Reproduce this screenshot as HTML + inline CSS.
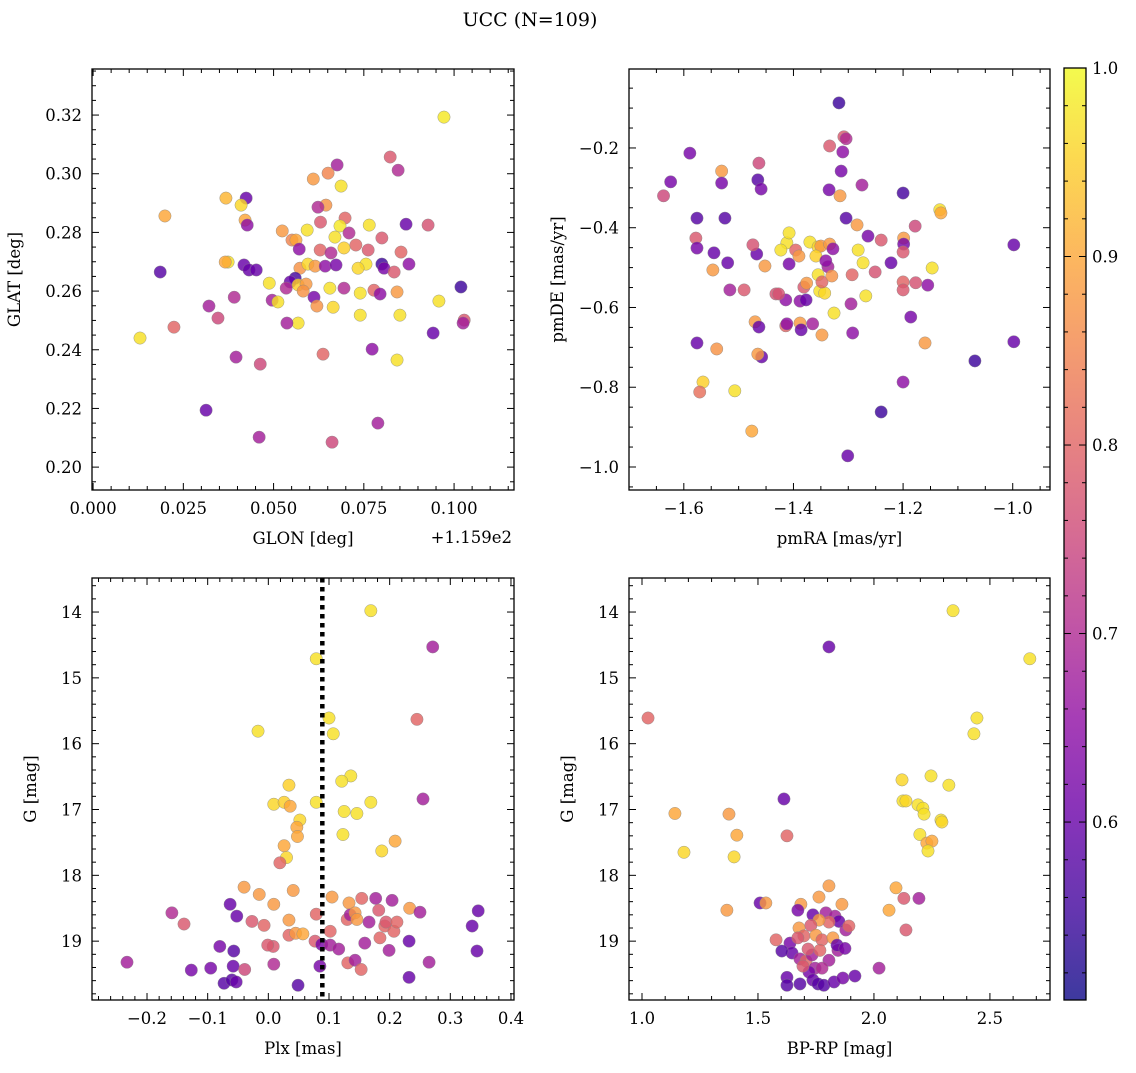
<!DOCTYPE html>
<html><head><meta charset="utf-8"><style>
body{margin:0;background:#fff;}
svg text{font-family:"DejaVu Serif","Liberation Serif",serif;fill:#000;}
</style></head><body>
<svg id="fig" width="1136" height="1068" viewBox="0 0 1136 1068" xmlns="http://www.w3.org/2000/svg">
<defs><linearGradient id="plasma" x1="0" y1="1" x2="0" y2="0">
<stop offset="0" stop-color="#0d0887"/><stop offset="0.1" stop-color="#41049d"/><stop offset="0.2" stop-color="#6a00a8"/><stop offset="0.3" stop-color="#8f0da4"/><stop offset="0.4" stop-color="#b12a90"/><stop offset="0.5" stop-color="#cc4778"/><stop offset="0.6" stop-color="#e16462"/><stop offset="0.7" stop-color="#f2844b"/><stop offset="0.8" stop-color="#fca636"/><stop offset="0.9" stop-color="#fcce25"/><stop offset="1" stop-color="#f0f921"/>
</linearGradient></defs>
<text x="530" y="26" font-size="19" text-anchor="middle">UCC (N=109)</text>
</svg>
<script>
// Panel 1: GLON offset (deg, +115.9), GLAT, probability
const glon=[0.0972,0.0823,0.0676,0.0845,0.0651,0.061,0.0687,0.0199,0.0368,0.0424,0.041,0.0421,0.0427,0.0645,0.0623,0.0698,0.063,0.0684,0.0765,0.0867,0.0928,0.0524,0.0593,0.0709,0.0551,0.0562,0.067,0.08,0.0728,0.0695,0.0571,0.0629,0.0659,0.0762,0.0853,0.08,0.0806,0.0875,0.0834,0.0756,0.0734,0.0573,0.0595,0.0615,0.0643,0.0673,0.0374,0.0366,0.0418,0.0432,0.0488,0.0186,0.056,0.0546,0.0568,0.0535,0.059,0.0582,0.0612,0.0496,0.0656,0.0695,0.074,0.0778,0.0795,0.0842,0.1019,0.0391,0.0321,0.0346,0.0512,0.0568,0.0537,0.062,0.0665,0.074,0.085,0.0958,0.1028,0.1025,0.0942,0.013,0.0224,0.0637,0.0773,0.0842,0.0396,0.0463,0.0313,0.0789,0.046,0.0662,0.0452];
const glat=[0.3193,0.3057,0.303,0.3012,0.3002,0.2982,0.2958,0.2856,0.2917,0.2917,0.2893,0.2842,0.2825,0.2893,0.2886,0.2849,0.2835,0.2822,0.2825,0.2828,0.2825,0.2805,0.2808,0.2798,0.2774,0.2774,0.2784,0.2781,0.2757,0.2747,0.2743,0.274,0.273,0.274,0.2733,0.2692,0.2678,0.2692,0.2665,0.2692,0.2678,0.2678,0.2692,0.2685,0.2685,0.2689,0.2699,0.2699,0.2689,0.2672,0.2627,0.2665,0.2644,0.2631,0.2621,0.261,0.2624,0.26,0.2579,0.2569,0.261,0.261,0.2593,0.2603,0.259,0.2597,0.2614,0.2579,0.2549,0.2508,0.2563,0.2491,0.2491,0.2549,0.2545,0.2518,0.2518,0.2566,0.2501,0.2491,0.2457,0.244,0.2477,0.2385,0.2402,0.2365,0.2375,0.2351,0.2194,0.215,0.2102,0.2085,0.2672];
const prob1=[.98,.78,.68,.7,.85,.88,.97,.9,.92,.6,.96,.9,.65,.87,.7,.8,.78,.98,.97,.6,.77,.88,.97,.7,.85,.9,.97,.78,.8,.95,.65,.8,.7,.78,.8,.55,.62,.65,.78,.97,.96,.87,.96,.88,.65,.62,.97,.9,.6,.6,.97,.58,.56,.6,.95,.7,.88,.87,.62,.68,.97,.7,.97,.8,.65,.88,.55,.7,.68,.75,.97,.97,.68,.87,.96,.97,.97,.97,.78,.68,.6,.97,.8,.8,.65,.97,.68,.75,.6,.68,.68,.75,.6];
// Panel 2: proper motions
const pmra=[-1.317,-1.589,-1.637,-1.624,-1.531,-1.531,-1.463,-1.465,-1.459,-1.576,-1.525,-1.578,-1.576,-1.545,-1.52,-1.547,-1.467,-1.452,-1.474,-1.49,-1.516,-1.432,-1.576,-1.54,-1.565,-1.571,-1.507,-1.47,-1.463,-1.458,-1.465,-1.476,-1.412,-1.408,-1.414,-1.388,-1.388,-1.414,-1.427,-1.412,-1.408,-1.423,-1.396,-1.39,-1.381,-1.376,-1.386,-1.365,-1.377,-1.37,-1.355,-1.35,-1.359,-1.355,-1.352,-1.343,-1.337,-1.348,-1.341,-1.348,-1.334,-1.328,-1.33,-1.326,-1.334,-1.335,-1.313,-1.315,-1.308,-1.304,-1.31,-1.304,-1.295,-1.292,-1.293,-1.284,-1.282,-1.273,-1.275,-1.268,-1.264,-1.24,-1.251,-1.301,-1.24,-1.222,-1.2,-1.199,-1.199,-1.2,-1.2,-1.2,-1.2,-1.186,-1.178,-1.177,-1.16,-1.155,-1.147,-1.133,-1.131,-1.069,-0.998,-0.998];
const pmde=[-0.087,-0.213,-0.32,-0.285,-0.258,-0.288,-0.238,-0.28,-0.303,-0.376,-0.376,-0.426,-0.451,-0.463,-0.488,-0.506,-0.466,-0.496,-0.443,-0.556,-0.556,-0.566,-0.689,-0.704,-0.787,-0.812,-0.809,-0.636,-0.649,-0.724,-0.717,-0.91,-0.438,-0.491,-0.581,-0.584,-0.639,-0.646,-0.566,-0.641,-0.413,-0.456,-0.456,-0.471,-0.549,-0.539,-0.656,-0.641,-0.581,-0.436,-0.448,-0.446,-0.471,-0.518,-0.559,-0.564,-0.498,-0.536,-0.483,-0.669,-0.441,-0.453,-0.521,-0.614,-0.195,-0.305,-0.258,-0.32,-0.172,-0.177,-0.21,-0.376,-0.591,-0.664,-0.518,-0.393,-0.456,-0.488,-0.293,-0.571,-0.421,-0.431,-0.511,-0.972,-0.862,-0.488,-0.313,-0.426,-0.441,-0.461,-0.536,-0.556,-0.787,-0.624,-0.396,-0.538,-0.689,-0.544,-0.501,-0.355,-0.363,-0.734,-0.443,-0.686];
const prob2=[.55,.62,.75,.62,.88,.62,.75,.58,.62,.58,.58,.78,.62,.6,.6,.88,.6,.88,.77,.78,.68,.77,.6,.87,.95,.82,.97,.88,.6,.6,.88,.9,.97,.62,.65,.65,.88,.8,.77,.65,.97,.97,.8,.88,.78,.88,.6,.68,.6,.97,.96,.88,.95,.97,.97,.96,.68,.8,.65,.88,.88,.65,.87,.97,.78,.62,.62,.88,.78,.7,.65,.58,.68,.65,.8,.88,.97,.97,.68,.97,.62,.78,.77,.6,.55,.6,.56,.88,.62,.78,.8,.78,.65,.62,.75,.77,.88,.65,.97,.97,.9,.55,.6,.6];
// Panel 3: parallax vs G
const plx=[0.169,0.271,0.079,0.245,0.1,-0.017,0.107,0.034,0.136,0.121,0.255,0.009,0.026,0.036,0.052,0.047,0.048,0.026,0.03,0.079,0.125,0.146,0.169,0.123,0.209,0.187,0.019,-0.04,-0.015,0.041,-0.063,-0.159,-0.139,-0.052,-0.027,-0.007,0.009,0.034,0.034,0.045,0.057,0.079,0.077,0.088,0.085,0.105,0.102,0.102,0.116,0.13,0.133,0.135,0.143,0.146,0.154,0.131,0.143,0.153,0.166,0.159,0.177,0.182,0.192,0.194,0.184,0.207,0.199,0.212,0.204,0.232,0.233,0.25,0.232,0.265,0.336,0.346,0.344,-0.233,-0.127,-0.095,-0.08,-0.057,-0.058,-0.073,-0.06,-0.053,-0.039,0.008,0.009,-0.001,0.049];
const gmag3=[13.98,14.53,14.71,15.63,15.61,15.81,15.85,16.63,16.49,16.57,16.84,16.92,16.89,16.95,17.16,17.27,17.41,17.55,17.73,16.89,17.03,17.06,16.89,17.38,17.48,17.63,17.81,18.18,18.29,18.23,18.44,18.57,18.74,18.62,18.7,18.76,18.44,18.68,18.91,18.88,18.89,18.59,19.0,19.05,19.38,18.33,18.85,19.06,19.12,18.67,18.42,18.6,18.57,18.67,18.35,19.33,19.29,19.43,18.71,19.03,18.35,18.53,18.77,18.71,18.95,18.85,19.14,18.71,18.38,19.0,18.5,18.56,19.55,19.32,18.77,18.54,19.15,19.32,19.44,19.41,19.08,19.15,19.38,19.64,19.59,19.62,19.43,19.08,19.35,19.06,19.67];
const prob3=[.97,.68,.97,.8,.97,.97,.97,.95,.97,.97,.68,.96,.95,.9,.96,.9,.9,.9,.96,.97,.97,.97,.97,.97,.9,.96,.8,.88,.88,.88,.6,.7,.78,.6,.78,.8,.88,.88,.8,.88,.9,.8,.78,.62,.62,.88,.8,.68,.68,.8,.88,.68,.88,.88,.8,.8,.68,.8,.68,.68,.68,.78,.8,.78,.8,.8,.68,.8,.68,.6,.88,.68,.6,.68,.6,.6,.6,.68,.62,.62,.62,.58,.6,.58,.58,.6,.75,.78,.7,.78,.58];
const plxLine=0.089;
// Panel 4: CMD
const bprp=[2.341,2.672,1.806,1.026,2.444,2.431,2.323,2.246,2.121,2.125,2.138,2.19,2.211,2.216,2.289,2.293,2.198,2.228,2.25,2.233,1.142,1.375,1.409,1.397,1.181,1.612,1.625,1.366,1.509,1.534,1.578,1.806,1.763,2.095,2.065,2.129,2.194,2.138,2.022,1.685,1.862,1.672,1.737,1.793,1.832,1.849,1.806,1.763,1.728,1.879,1.892,1.677,1.698,1.75,1.776,1.823,1.638,1.647,1.603,1.681,1.707,1.733,1.767,1.806,1.845,1.841,1.875,1.746,1.776,1.72,1.625,1.625,1.681,1.737,1.759,1.784,1.828,1.866,1.918,1.672,1.716,1.694];
const gmag4=[13.98,14.71,14.53,15.61,15.61,15.85,16.63,16.49,16.55,16.87,16.87,16.93,16.98,17.07,17.16,17.19,17.38,17.51,17.48,17.63,17.06,17.07,17.39,17.72,17.65,16.84,17.4,18.53,18.42,18.42,18.98,18.16,18.33,18.19,18.53,18.35,18.35,18.83,19.41,18.44,18.44,18.53,18.6,18.57,18.62,18.7,18.71,18.68,18.76,18.83,18.77,18.8,18.92,18.91,18.98,18.95,19.03,19.18,19.15,19.27,19.3,19.21,19.14,19.29,19.14,19.06,19.11,19.41,19.41,19.47,19.55,19.67,19.65,19.59,19.65,19.67,19.62,19.56,19.53,18.95,19.12,19.38];
const prob4=[.97,.97,.6,.8,.97,.97,.97,.97,.96,.97,.96,.97,.97,.97,.97,.96,.97,.9,.9,.97,.9,.88,.9,.96,.96,.6,.8,.88,.6,.88,.8,.88,.88,.9,.9,.78,.68,.78,.68,.88,.88,.62,.6,.68,.68,.6,.8,.88,.78,.68,.8,.88,.8,.88,.8,.88,.62,.6,.58,.68,.8,.68,.8,.68,.68,.6,.62,.68,.7,.62,.6,.58,.58,.6,.58,.58,.6,.62,.6,.78,.78,.78];
const cbTicks=[0.6,0.7,0.8,0.9,1.0];
const PMIN=0.5056,PMAX=1.0;

const NS='http://www.w3.org/2000/svg';
const svg=document.getElementById('fig');
function mk(tag,attrs,parent){const e=document.createElementNS(NS,tag);for(const k in attrs)e.setAttribute(k,attrs[k]);(parent||svg).appendChild(e);return e;}
const stops=[[0,[13,8,135]],[.1,[65,4,157]],[.2,[106,0,168]],[.3,[143,13,164]],[.4,[177,42,144]],[.5,[204,71,120]],[.6,[225,100,98]],[.7,[242,132,75]],[.8,[252,166,54]],[.9,[252,206,37]],[1,[240,249,33]]];
function cmap(p){let t=(p-PMIN)/(PMAX-PMIN);t=Math.max(0,Math.min(1,t));for(let i=0;i<stops.length-1;i++){const a=stops[i],b=stops[i+1];if(t<=b[0]){const f=(t-a[0])/(b[0]-a[0]);return 'rgb('+a[1].map((c,j)=>Math.round(c+(b[1][j]-c)*f)).join(',')+')';}}return 'rgb(240,249,33)';}
function lin(d0,d1,r0,r1){return v=>r0+(v-d0)/(d1-d0)*(r1-r0);}
function fmt(v,dec){let s=v.toFixed(dec);if(s==='-0.0')s='0.0';if(s.startsWith('-'))s='\u2212'+s.slice(1);return s;}

function panel(o){
  const g=mk('g',{});
  
  
  const X=lin(o.xd[0],o.xd[1],o.L,o.R),Y=lin(o.yd[0],o.yd[1],o.B,o.T);
  const cl='clip-'+o.name;
  const cp=mk('clipPath',{id:cl},g);mk('rect',{x:o.L,y:o.T,width:o.R-o.L,height:o.B-o.T},cp);
  const pts=mk('g',{'clip-path':'url(#'+cl+')'},g);
  
  
  for(let i=0;i<o.xs.length;i++){
    const c=mk('circle',{cx:X(o.xs[i]),cy:Y(o.ys[i]),r:6.2,fill:cmap(o.ps[i]),'fill-opacity':0.82,stroke:'#888','stroke-width':0.4},pts);
    
    
  }
  if(o.vline!==undefined){
    const l=mk('line',{x1:X(o.vline),x2:X(o.vline),y1:o.T,y2:o.B,stroke:'#000','stroke-width':4.5,'stroke-dasharray':'4.5,4.5'},g);
    
    
  }
  const fr=mk('rect',{x:o.L,y:o.T,width:o.R-o.L,height:o.B-o.T,fill:'none',stroke:'#000','stroke-width':1.3},g);
  
  
  const tk=mk('g',{stroke:'#000','stroke-width':1},g);
  const eps=1e-9;
  const x0=Math.min(...o.xd),x1=Math.max(...o.xd),y0=Math.min(...o.yd),y1=Math.max(...o.yd);
  const nx0=Math.ceil((x0-eps)/o.xmin),nx1=Math.floor((x1+eps)/o.xmin);
  for(let n=nx0;n<=nx1;n++){
    const v=n*o.xmin;const px=X(v);const isMaj=Math.abs(v/o.xmaj-Math.round(v/o.xmaj))<1e-6;const len=isMaj?7:4;
    mk('line',{x1:px,x2:px,y1:o.B,y2:o.B-len},tk);mk('line',{x1:px,x2:px,y1:o.T,y2:o.T+len},tk);
    if(isMaj){const t=mk('text',{x:px,y:o.B+24,'font-size':16.5,'text-anchor':'middle'},g);t.textContent=fmt(v,o.xdec);
      }
  }
  const ny0=Math.ceil((y0-eps)/o.ymin),ny1=Math.floor((y1+eps)/o.ymin);
  for(let n=ny0;n<=ny1;n++){
    const v=n*o.ymin;const py=Y(v);const isMaj=Math.abs(v/o.ymaj-Math.round(v/o.ymaj))<1e-6;const len=isMaj?7:4;
    mk('line',{x1:o.L,x2:o.L+len,y1:py,y2:py},tk);mk('line',{x1:o.R,x2:o.R-len,y1:py,y2:py},tk);
    if(isMaj){const t=mk('text',{x:o.L-10,y:py+6,'font-size':16.5,'text-anchor':'end'},g);t.textContent=fmt(v,o.ydec);
      }
  }
  const xt=mk('text',{x:(o.L+o.R)/2,y:o.B+54,'font-size':16.5,'text-anchor':'middle'},g);xt.textContent=o.xlabel;
  
  const yx=o.L-(o.ylabOff||60);
  const yt=mk('text',{x:yx,y:(o.T+o.B)/2,'font-size':16.5,'text-anchor':'middle',transform:'rotate(-90 '+yx+' '+((o.T+o.B)/2)+')'},g);yt.textContent=o.ylabel;
  
}
panel({name:'position-panel',L:92,R:514,T:69,B:490,xd:[-0.0003,0.1166],yd:[0.1922,0.3357],xs:glon,ys:glat,ps:prob1,xmaj:0.025,xmin:0.005,ymaj:0.02,ymin:0.005,xdec:3,ydec:2,xlabel:'GLON [deg]',ylabel:'GLAT [deg]',ylabOff:72});
const off=mk('text',{x:512,y:543,'font-size':16.5,'text-anchor':'end'});off.textContent='+1.159e2';


panel({name:'proper-motion-panel',L:629,R:1050,T:69,B:490,xd:[-1.7,-0.932],yd:[-1.0577,-0.002],xs:pmra,ys:pmde,ps:prob2,xmaj:0.2,xmin:0.05,ymaj:0.2,ymin:0.05,xdec:1,ydec:1,xlabel:'pmRA [mas/yr]',ylabel:'pmDE [mas/yr]',ylabOff:66});
panel({name:'parallax-panel',L:92,R:514,T:578,B:1000,xd:[-0.2907,0.405],yd:[19.894,13.483],xs:plx,ys:gmag3,ps:prob3,vline:plxLine,xmaj:0.1,xmin:0.02,ymaj:1,ymin:0.2,xdec:1,ydec:0,xlabel:'Plx [mas]',ylabel:'G [mag]',ylabOff:56});
panel({name:'cmd-panel',L:629,R:1050,T:578,B:1000,xd:[0.944,2.759],yd:[19.894,13.483],xs:bprp,ys:gmag4,ps:prob4,xmaj:0.5,xmin:0.1,ymaj:1,ymin:0.2,xdec:1,ydec:0,xlabel:'BP-RP [mag]',ylabel:'G [mag]',ylabOff:56});

// colorbar
const cb=mk('g',{});


const cT=68,cB=1000,cL=1064,cR=1086;
const CY=lin(PMIN,PMAX,cB,cT);
mk('rect',{x:cL,y:cT,width:cR-cL,height:cB-cT,fill:'url(#plasma)','fill-opacity':0.8},cb);
mk('rect',{x:cL,y:cT,width:cR-cL,height:cB-cT,fill:'none',stroke:'#000','stroke-width':1.3},cb);
for(let n=26;n<=50;n++){const v=n*0.02;const y=CY(v);const maj=n%5===0;mk('line',{x1:cR,x2:cR-(maj?7:4),y1:y,y2:y,stroke:'#000'},cb);mk('line',{x1:cL,x2:cL+(maj?7:4),y1:y,y2:y,stroke:'#000'},cb);}
cbTicks.forEach(v=>{const t=mk('text',{x:cR+6,y:CY(v)+6,'font-size':16.5},cb);t.textContent=v.toFixed(1);
  
  });
</script>
</body></html>
